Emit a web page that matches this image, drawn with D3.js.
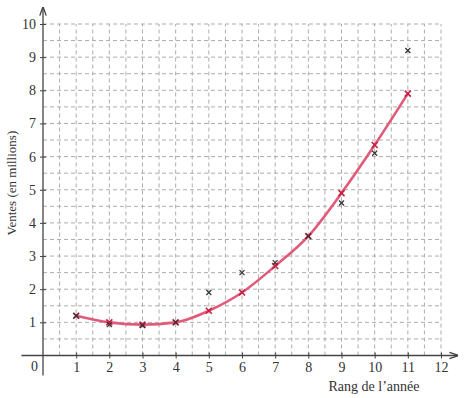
<!DOCTYPE html>
<html>
<head>
<meta charset="utf-8">
<script src="https://cdn.jsdelivr.net/npm/d3@7"></script>
<style>
  body { margin: 0; background: #fff; }
  svg { display: block; font-family: "Liberation Serif", "DejaVu Serif", serif; }
</style>
</head>
<body>
<div id="chart"></div>
<script>
// data
const years = [1, 2, 3, 4, 5, 6, 7, 8, 9, 10, 11];
const ventes = [1.2, 0.93, 0.9, 1.0, 1.9, 2.5, 2.8, 3.6, 4.6, 6.1, 9.2];
const modele = [1.2, 1.0, 0.93, 1.0, 1.35, 1.9, 2.7, 3.6, 4.9, 6.35, 7.9];
const xTicks = [1, 2, 3, 4, 5, 6, 7, 8, 9, 10, 11, 12];
const yTicks = [1, 2, 3, 4, 5, 6, 7, 8, 9, 10];
const xLabel = "Rang de l\u2019année";
const yLabel = "Ventes (en millions)";

const width = 466, height = 398;

const x = d3.scaleLinear().domain([0, 12]).range([43, 441]);
const y = d3.scaleLinear().domain([0, 10]).range([355.5, 24]);

const svg = d3.select("#chart")
    .append("svg")
    .attr("width", width)
    .attr("height", height);

// grid, every half unit
const halves = d => d3.range(1, d * 2 + 1).map(i => i / 2);
const grid = svg.append("g")
    .attr("stroke", "#adadad")
    .attr("stroke-width", 1)
    .attr("stroke-dasharray", "4,3");

grid.selectAll(".gx")
    .data(halves(12))
    .enter().append("line")
    .attr("x1", d => x(d)).attr("x2", d => x(d))
    .attr("y1", y(0)).attr("y2", y(10));

grid.selectAll(".gy")
    .data(halves(10))
    .enter().append("line")
    .attr("y1", d => y(d)).attr("y2", d => y(d))
    .attr("x1", x(0)).attr("x2", x(12));

// arrow head
svg.append("defs").append("marker")
    .attr("id", "arrow")
    .attr("viewBox", "0 0 10 10")
    .attr("refX", 9).attr("refY", 5)
    .attr("markerWidth", 7).attr("markerHeight", 7)
    .attr("orient", "auto")
    .append("path")
    .attr("d", "M0,1.5 L10,5 L0,8.5")
    .attr("fill", "none")
    .attr("stroke", "#444")
    .attr("stroke-width", 1.5);

// axis lines
svg.append("line")
    .attr("x1", x(-0.65)).attr("x2", x(12.5))
    .attr("y1", y(0)).attr("y2", y(0))
    .attr("stroke", "#444").attr("stroke-width", 1.3)
    .attr("marker-end", "url(#arrow)");

svg.append("line")
    .attr("x1", x(0)).attr("x2", x(0))
    .attr("y1", y(-0.6)).attr("y2", y(10.5))
    .attr("stroke", "#444").attr("stroke-width", 1.3)
    .attr("marker-end", "url(#arrow)");

// x axis ticks
const xAxis = svg.append("g")
    .attr("transform", `translate(0,${y(0)})`)
    .call(d3.axisBottom(x).tickValues(xTicks).tickSize(3).tickPadding(4));
xAxis.select(".domain").remove();
xAxis.selectAll(".tick line").attr("y1", -3).attr("stroke", "#444");
xAxis.selectAll("text")
    .attr("font-size", 14).attr("fill", "#333")
    .attr("font-family", "Liberation Serif, DejaVu Serif, serif");

// y axis ticks
const yAxis = svg.append("g")
    .attr("transform", `translate(${x(0)},0)`)
    .call(d3.axisLeft(y).tickValues(yTicks).tickSize(3).tickPadding(4));
yAxis.select(".domain").remove();
yAxis.selectAll(".tick line").attr("x1", 3).attr("stroke", "#444");
yAxis.selectAll("text")
    .attr("font-size", 14).attr("fill", "#333")
    .attr("font-family", "Liberation Serif, DejaVu Serif, serif");

// origin
svg.append("text")
    .attr("x", x(0) - 5).attr("y", y(0) + 15)
    .attr("text-anchor", "end")
    .attr("font-size", 14).attr("fill", "#333")
    .text("0");

// labels
svg.append("text")
    .attr("x", 374).attr("y", 391)
    .attr("text-anchor", "middle")
    .attr("font-size", 14).attr("fill", "#333")
    .text(xLabel);

svg.append("text")
    .attr("transform", `translate(16,${y(5.2)}) rotate(-90)`)
    .attr("text-anchor", "middle")
    .attr("font-size", 13).attr("fill", "#333")
    .text(yLabel);

// fitted curve
const pts = years.map((d, i) => ({ x: d, v: modele[i] }));
const line = d3.line()
    .x(d => x(d.x))
    .y(d => y(d.v))
    .curve(d3.curveMonotoneX);

svg.append("path")
    .datum(pts)
    .attr("fill", "none")
    .attr("stroke", "#e25a7a")
    .attr("stroke-width", 2.6)
    .attr("d", line);

// cross markers
function crosses(data, cls, color, s, w) {
    const g = svg.append("g").attr("stroke", color).attr("stroke-width", w);
    g.selectAll("." + cls + "a")
        .data(data).enter().append("line")
        .attr("x1", d => x(d.x) - s).attr("x2", d => x(d.x) + s)
        .attr("y1", d => y(d.v) - s).attr("y2", d => y(d.v) + s);
    g.selectAll("." + cls + "b")
        .data(data).enter().append("line")
        .attr("x1", d => x(d.x) - s).attr("x2", d => x(d.x) + s)
        .attr("y1", d => y(d.v) + s).attr("y2", d => y(d.v) - s);
}

crosses(pts, "m", "#c8203f", 3, 1.6);
crosses(years.map((d, i) => ({ x: d, v: ventes[i] })), "o", "#333", 2.5, 1.2);
</script>
</body>
</html>
